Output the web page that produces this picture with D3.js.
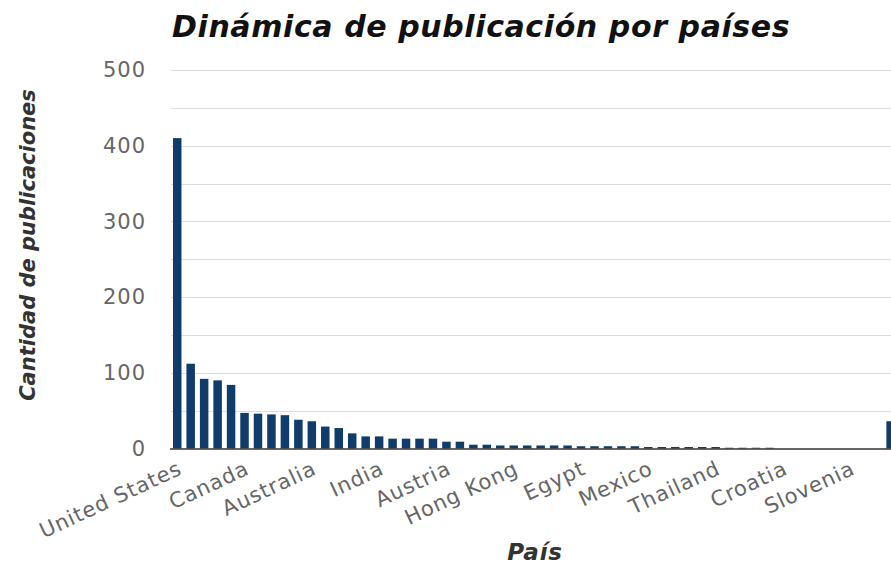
<!DOCTYPE html>
<html>
<head>
<meta charset="utf-8">
<script src="https://cdn.jsdelivr.net/npm/d3@7/dist/d3.min.js"></script>
<style>
  html, body { margin: 0; padding: 0; background: #fff; overflow: hidden; }
  svg { display: block; font-family: "DejaVu Sans", Verdana, sans-serif; }
</style>
</head>
<body>
<svg id="chart" width="891" height="567"></svg>
<script>
const categories = [
  "United States","United Kingdom","China","Germany","Spain",
  "Canada","Italy","France","Netherlands","Brazil",
  "Australia","Japan","Sweden","Switzerland","South Korea",
  "India","Belgium","Denmark","Norway","Israel",
  "Austria","Finland","Portugal","Taiwan","Ireland",
  "Hong Kong","Singapore","Iran","Poland","Turkey",
  "Egypt","Greece","South Africa","New Zealand","Chile",
  "Mexico","Colombia","Argentina","Malaysia","Saudi Arabia",
  "Thailand","Czech Republic","Pakistan","Russia","Hungary",
  "Croatia","Romania","Nigeria","Serbia","Peru",
  "Slovenia","Lebanon","Indonesia","Otros"
];
const values = [
  410,112,92,90,84,
  47,46,45,44,38,
  36,29,27,20,16,
  16,13,13,13,13,
  9,9,5,5,4,
  4,4,4,4,4,
  3,3,3,3,3,
  2,2,2,2,2,
  2,1,1,1,1,
  0,0,0,0,0,
  0,0,0,36
];
const tickLabels = ["United States","Canada","Australia","India","Austria","Hong Kong","Egypt","Mexico","Thailand","Croatia","Slovenia"];
const yTicks = [0,100,200,300,400,500];
const gridValues = [0,50,100,150,200,250,300,350,400,450,500];

const title = "Dinámica de publicación por países";
const yTitle = "Cantidad de publicaciones";
const xTitle = "País";

const svg = d3.select("#chart");
const W = 891, H = 567;
const step = 13.46;
const x0 = 170.5;

const x = d3.scaleBand()
  .domain(categories)
  .range([x0, x0 + step * categories.length])
  .paddingInner(0.37)
  .paddingOuter(0.185);

const y = d3.scaleLinear().domain([0, 500]).range([448.5, 70]);

// gridlines
svg.append("g").selectAll("line")
  .data(gridValues.filter(v => v > 0))
  .join("line")
  .attr("x1", 171).attr("x2", W)
  .attr("y1", d => Math.round(y(d)) + 0.5)
  .attr("y2", d => Math.round(y(d)) + 0.5)
  .attr("stroke", "#dcdcdc")
  .attr("stroke-width", 1);

// bars
svg.append("g").selectAll("rect")
  .data(categories)
  .join("rect")
  .attr("x", d => x(d))
  .attr("width", x.bandwidth())
  .attr("y", (d, i) => y(values[i]))
  .attr("height", (d, i) => y(0) - y(values[i]))
  .attr("fill", "#0f3c6a");

// x axis line
svg.append("line")
  .attr("x1", 170).attr("x2", W)
  .attr("y1", y(0) + 0.5).attr("y2", y(0) + 0.5)
  .attr("stroke", "#333").attr("stroke-width", 1.5);

// y tick labels
const yAxis = d3.axisLeft(y).tickValues(yTicks).tickSize(0).tickPadding(0);
const gy = svg.append("g").attr("transform", "translate(146,0)").call(yAxis);
gy.select(".domain").remove();
gy.selectAll("text")
  .attr("fill", "#666")
  .style("font-size", "21px")
  .style("letter-spacing", "1px")
  .style("font-family", "'DejaVu Sans', Verdana, sans-serif");

// x tick labels
const xAxis = d3.axisBottom(x).tickValues(tickLabels).tickSize(0).tickPadding(0);
const gx = svg.append("g").attr("transform", `translate(0,${y(0)})`).call(xAxis);
gx.select(".domain").remove();
gx.selectAll("text")
  .attr("fill", "#666")
  .style("font-size", "21px")
  .style("letter-spacing", "0.9px")
  .style("font-family", "'DejaVu Sans', Verdana, sans-serif")
  .attr("text-anchor", "end")
  .attr("dy", "0")
  .attr("y", 0)
  .attr("transform", "translate(6,25) rotate(-25)");

// title
svg.append("text")
  .attr("x", 172).attr("y", 37)
  .attr("fill", "#111")
  .style("font-size", "30px")
  .style("letter-spacing", "0.6px")
  .style("font-weight", "bold")
  .style("font-style", "italic")
  .text(title);

// y title
svg.append("text")
  .attr("transform", "translate(35,245) rotate(-90)")
  .attr("text-anchor", "middle")
  .attr("fill", "#333")
  .style("font-size", "21px")
  .style("font-weight", "bold")
  .style("font-style", "italic")
  .text(yTitle);

// x title
svg.append("text")
  .attr("x", 535).attr("y", 560)
  .attr("text-anchor", "middle")
  .attr("fill", "#333")
  .style("font-size", "23px")
  .style("letter-spacing", "0.8px")
  .style("font-weight", "bold")
  .style("font-style", "italic")
  .text(xTitle);
</script>
</body>
</html>
